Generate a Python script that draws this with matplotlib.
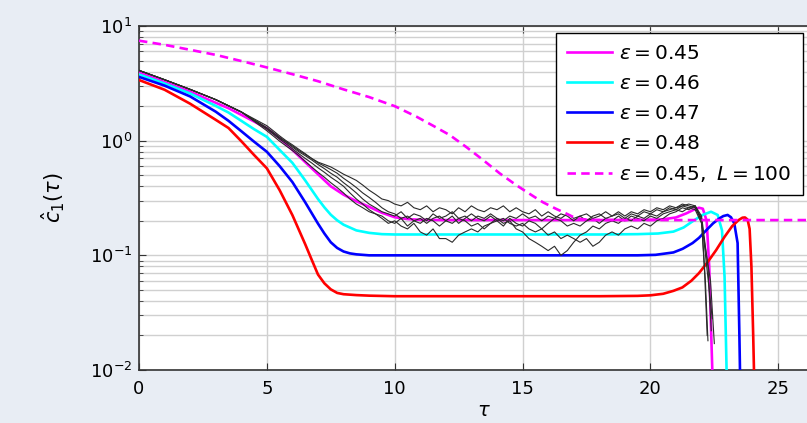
import numpy as np
import matplotlib.pyplot as plt

plt.rcParams['mathtext.fontset'] = 'dejavusans'
plt.rcParams['font.size'] = 13

# epsilon = 0.45
tau_m = [0, 1, 2, 3, 3.5, 4, 4.5, 5, 5.5, 6, 6.5, 7, 7.5, 8, 8.5, 9, 9.5, 10, 10.5, 11, 12,
         14, 16, 18, 20, 20.5, 21, 21.4, 21.7, 21.9, 22.05, 22.2, 22.3, 22.38, 22.45]
c_m = [3.94, 3.25, 2.68, 2.14, 1.92, 1.68, 1.47, 1.28, 1.05, 0.83, 0.65, 0.51, 0.40, 0.338, 0.296,
       0.265, 0.235, 0.215, 0.207, 0.204, 0.203, 0.203, 0.203, 0.203, 0.204, 0.206, 0.214, 0.232,
       0.25, 0.26, 0.255, 0.20, 0.08, 0.02, 0.006]

# epsilon = 0.46
tau_c = [0, 1, 2, 3, 3.5, 4, 4.5, 5, 5.5, 6, 6.5, 7, 7.25, 7.5, 7.75, 8, 8.5, 9, 9.5, 10, 12, 14,
         16, 18, 19.5, 20.3, 20.9, 21.3, 21.65, 22.04, 22.37, 22.63, 22.8, 22.9, 22.95, 23.0]
c_c = [3.78, 3.15, 2.58, 2.01, 1.76, 1.49, 1.26, 1.08, 0.83, 0.64, 0.45, 0.31, 0.262, 0.226, 0.202,
       0.185, 0.165, 0.157, 0.153, 0.152, 0.152, 0.152, 0.152, 0.152, 0.153, 0.155, 0.161, 0.175,
       0.198, 0.225, 0.24, 0.225, 0.165, 0.065, 0.02, 0.006]

# epsilon = 0.47
tau_b = [0, 1, 2, 3, 3.5, 4, 4.5, 5, 5.5, 6, 6.5, 7, 7.25, 7.5, 7.75, 8, 8.25, 8.5, 9, 10, 12,
         14, 16, 18, 19.5, 20.2, 20.9, 21.26, 21.65, 21.9, 22.18, 22.45, 22.7, 22.85, 23.02, 23.15,
         23.28, 23.41, 23.48, 23.52]
c_b = [3.6, 3.02, 2.43, 1.79, 1.49, 1.21, 0.98, 0.80, 0.60, 0.435, 0.29, 0.189, 0.155, 0.13, 0.116,
       0.108, 0.104, 0.102, 0.1, 0.1, 0.1, 0.1, 0.1, 0.1, 0.1, 0.101, 0.106, 0.114, 0.128, 0.142,
       0.165, 0.19, 0.21, 0.22, 0.225, 0.215, 0.19, 0.128, 0.02, 0.006]

# epsilon = 0.48
tau_r = [0, 1, 2, 3, 3.5, 4, 4.5, 5, 5.5, 6, 6.5, 6.75, 7, 7.25, 7.5, 7.75, 8, 8.5, 9, 10, 12,
         14, 16, 18, 19.5, 20, 20.5, 20.9, 21.25, 21.6, 21.9, 22.25, 22.57, 22.9, 23.2, 23.45,
         23.6, 23.7, 23.8, 23.88, 23.95, 24.02, 24.08]
c_r = [3.38, 2.78, 2.10, 1.52, 1.29, 0.99, 0.75, 0.574, 0.37, 0.224, 0.125, 0.092, 0.068, 0.057,
       0.0505, 0.047, 0.0458, 0.045, 0.0445, 0.044, 0.044, 0.044, 0.044, 0.044, 0.0443, 0.0448,
       0.0462, 0.049, 0.0525, 0.06, 0.07, 0.088, 0.111, 0.145, 0.18, 0.203, 0.213, 0.214, 0.205,
       0.17, 0.08, 0.02, 0.005]

# epsilon = 0.45, L = 100
tau_L = [0, 1, 2, 3, 4, 5, 6, 7, 8, 9, 10, 10.85, 11.5, 12.15, 12.8, 13.45, 14.1, 14.75, 15.4,
         15.8, 16.3, 16.7, 17.0, 17.3, 17.6, 18, 27]
c_L = [7.45, 6.85, 6.2, 5.6, 4.95, 4.35, 3.8, 3.3, 2.8, 2.4, 2.0, 1.62, 1.35, 1.12, 0.88, 0.68,
       0.52, 0.41, 0.33, 0.29, 0.255, 0.232, 0.215, 0.207, 0.204, 0.203, 0.203]

# simulaciones (curvas negras)
tau_early = [0, 1, 2, 3, 4]
c_early = [4.1, 3.4, 2.8, 2.28, 1.78]
tau_sim = np.arange(5, 22.01, 0.25)
sims = [
    [1.35, 1.22, 1.10, 1.00, 0.92, 0.84, 0.77, 0.70, 0.65, 0.62, 0.59, 0.55,
     0.51, 0.48, 0.45, 0.41, 0.37, 0.34, 0.31, 0.30, 0.28, 0.27, 0.29, 0.26,
     0.25, 0.27, 0.24, 0.26, 0.25, 0.23, 0.26, 0.24, 0.27, 0.25, 0.24, 0.26,
     0.25, 0.27, 0.24, 0.26, 0.24, 0.23, 0.25, 0.22, 0.24, 0.22, 0.21, 0.23,
     0.21, 0.22, 0.20, 0.22, 0.23, 0.21, 0.22, 0.24, 0.22, 0.24, 0.23, 0.25,
     0.24, 0.26, 0.25, 0.27, 0.26, 0.28, 0.27, 0.26, 0.20],
    [1.28, 1.16, 1.05, 0.97, 0.88, 0.80, 0.74, 0.68, 0.62, 0.57, 0.52, 0.48,
     0.43, 0.39, 0.35, 0.31, 0.28, 0.26, 0.24, 0.23, 0.22, 0.24, 0.21, 0.23,
     0.22, 0.20, 0.23, 0.21, 0.22, 0.24, 0.21, 0.22, 0.20, 0.22, 0.21, 0.23,
     0.21, 0.19, 0.20, 0.17, 0.16, 0.14, 0.13, 0.12, 0.11, 0.12, 0.10, 0.11,
     0.13, 0.15, 0.16, 0.18, 0.17, 0.19, 0.20, 0.19, 0.21, 0.20, 0.22, 0.21,
     0.23, 0.22, 0.24, 0.25, 0.26, 0.27, 0.28, 0.27, 0.22],
    [1.22, 1.10, 0.99, 0.90, 0.82, 0.74, 0.66, 0.59, 0.53, 0.48, 0.43, 0.39,
     0.35, 0.31, 0.28, 0.26, 0.24, 0.23, 0.21, 0.19, 0.20, 0.18, 0.17, 0.19,
     0.16, 0.15, 0.17, 0.14, 0.14, 0.13, 0.15, 0.16, 0.17, 0.16, 0.18, 0.19,
     0.21, 0.20, 0.22, 0.21, 0.23, 0.21, 0.22, 0.20, 0.22, 0.21, 0.23, 0.22,
     0.20, 0.22, 0.23, 0.21, 0.22, 0.24, 0.22, 0.23, 0.21, 0.23, 0.22, 0.24,
     0.23, 0.25, 0.24, 0.26, 0.25, 0.27, 0.26, 0.27, 0.21],
    [1.30, 1.18, 1.07, 0.98, 0.90, 0.82, 0.76, 0.70, 0.64, 0.60, 0.56, 0.52,
     0.47, 0.43, 0.39, 0.35, 0.32, 0.29, 0.26, 0.24, 0.23, 0.21, 0.22, 0.20,
     0.21, 0.19, 0.21, 0.22, 0.20, 0.22, 0.19, 0.21, 0.23, 0.21, 0.20, 0.22,
     0.20, 0.21, 0.19, 0.18, 0.19, 0.17, 0.16, 0.17, 0.15, 0.16, 0.14, 0.15,
     0.14, 0.13, 0.14, 0.12, 0.13, 0.15, 0.16, 0.15, 0.17, 0.18, 0.17, 0.19,
     0.18, 0.20, 0.21, 0.23, 0.24, 0.26, 0.25, 0.27, 0.20],
    [1.26, 1.14, 1.03, 0.94, 0.85, 0.77, 0.70, 0.64, 0.58, 0.53, 0.48, 0.44,
     0.40, 0.35, 0.31, 0.28, 0.25, 0.23, 0.22, 0.20, 0.19, 0.21, 0.18, 0.20,
     0.19, 0.21, 0.20, 0.18, 0.20, 0.19, 0.21, 0.20, 0.18, 0.19, 0.17, 0.19,
     0.20, 0.18, 0.21, 0.19, 0.18, 0.20, 0.19, 0.17, 0.19, 0.21, 0.20, 0.18,
     0.19, 0.18, 0.20, 0.21, 0.19, 0.21, 0.20, 0.22, 0.20, 0.22, 0.21, 0.20,
     0.22, 0.21, 0.23, 0.24, 0.25, 0.24, 0.26, 0.25, 0.19],
]
tail_tau = [[22.15, 22.25], [22.25, 22.38], [22.3, 22.42], [22.12, 22.22], [22.35, 22.5]]
tail_c = [[0.06, 0.018], [0.08, 0.022], [0.05, 0.028], [0.07, 0.02], [0.06, 0.017]]

fig = plt.figure(figsize=(8.07, 4.23), dpi=100, facecolor='#e8edf4')
ax = fig.add_axes([139 / 807, 1 - 370 / 423, 690.4 / 807, 344 / 423])
ax.set_facecolor('white')

lw = 1.9
ax.plot(tau_m, c_m, color='#ff00ff', lw=lw, label=r'$\varepsilon = 0.45$', zorder=3)
ax.plot(tau_c, c_c, color='#00ffff', lw=lw, label=r'$\varepsilon = 0.46$', zorder=3)
ax.plot(tau_b, c_b, color='#0000ff', lw=lw, label=r'$\varepsilon = 0.47$', zorder=3)
ax.plot(tau_r, c_r, color='#ff0000', lw=lw, label=r'$\varepsilon = 0.48$', zorder=3)

for s, tt, tc in zip(sims, tail_tau, tail_c):
    t = list(tau_early) + list(tau_sim) + tt
    c = list(c_early) + s + tc
    ax.plot(t, c, color='#2a2a2a', lw=0.8, zorder=4)

ax.plot(tau_L, c_L, color='#ff00ff', lw=lw, dashes=(3.2, 2.0),
        label=r'$\varepsilon = 0.45,\ L = 100$', zorder=5)

ax.set_yscale('log')
ax.set_xlim(0, 27)
ax.set_ylim(1e-2, 1e1)
ax.set_xticks([0, 5, 10, 15, 20, 25])
ax.xaxis.set_minor_locator(plt.NullLocator())
ax.grid(True, which='major', color='#d0d0d0', lw=1.0, zorder=0)
ax.grid(True, which='minor', axis='y', color='#d0d0d0', lw=1.0, zorder=0)
ax.set_axisbelow(True)
ax.tick_params(which='both', direction='in', top=True, right=True, color='#333333', labelsize=13)
ax.tick_params(which='major', length=5)
ax.tick_params(which='minor', length=3)
ax.tick_params(axis='x', pad=7)
ax.tick_params(axis='y', pad=5)
for sp in ax.spines.values():
    sp.set_color('#333333')
    sp.set_linewidth(1.2)

ax.set_xlabel(r'$\tau$', fontsize=14, labelpad=2)
ax.set_ylabel(r'$\hat{c}_1(\tau)$', fontsize=15, labelpad=16)

leg = ax.legend(loc='upper left', bbox_to_anchor=(556 / 807, 1 - 33 / 423),
                bbox_transform=fig.transFigure, fancybox=False, edgecolor='black',
                framealpha=1, handlelength=2.25, handletextpad=0.35, labelspacing=0.55,
                borderpad=0.55, borderaxespad=0, fontsize=14.5)
leg.get_frame().set_linewidth(1.0)

fig.savefig('out.png', dpi=100, facecolor=fig.get_facecolor())
